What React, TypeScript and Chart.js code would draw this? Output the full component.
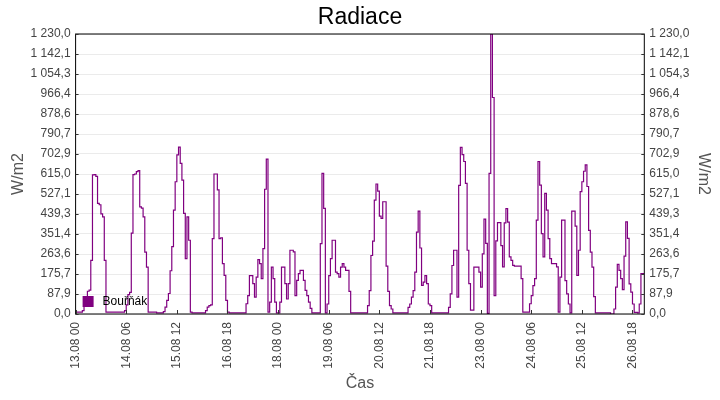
import { useEffect, useRef } from 'react';
import { Chart, registerables } from 'chart.js';

Chart.register(...registerables);

// hodinové hodnoty radiace (W/m2), po dnech od 13.08 00:00
const d13 = [8, 8, 8, 8, 15, 40, 75, 100, 105, 236, 611, 612, 605, 486, 480, 440, 427, 236, 8, 8, 8, 8, 8, 8];
const d14 = [8, 8, 8, 8, 8, 15, 40, 85, 95, 355, 612, 615, 625, 630, 471, 465, 427, 272, 206, 8, 8, 8, 8, 8];
const d15 = [5, 5, 5, 5, 10, 30, 60, 90, 190, 296, 456, 581, 699, 733, 662, 588, 442, 243, 427, 324, 8, 5, 5, 5];
const d16 = [5, 5, 5, 5, 5, 15, 30, 37, 40, 331, 615, 615, 545, 331, 335, 221, 170, 60, 8, 5, 5, 5, 5, 5];
const d17 = [5, 5, 5, 5, 5, 45, 81, 169, 169, 133, 74, 162, 239, 221, 155, 287, 548, 680, 8, 52, 206, 155, 52, 5];
const d18 = [5, 52, 206, 206, 133, 66, 133, 280, 280, 273, 81, 148, 177, 192, 192, 148, 104, 81, 52, 25, 5, 5, 5, 5];
const d19 = [5, 309, 618, 464, 5, 44, 169, 243, 324, 324, 184, 177, 162, 206, 221, 206, 192, 192, 99, 5, 5, 5, 5, 5];
const d20 = [5, 5, 5, 5, 5, 37, 103, 257, 320, 500, 571, 540, 430, 420, 493, 493, 210, 99, 37, 22, 5, 5, 5, 5];
const d21 = [5, 5, 5, 5, 5, 29, 44, 74, 103, 184, 360, 452, 290, 126, 140, 169, 133, 44, 37, 5, 5, 5, 5, 5];
const d22 = [5, 5, 5, 5, 5, 29, 88, 213, 280, 280, 74, 565, 732, 700, 670, 574, 280, 133, 17, 17, 206, 206, 206, 184];
const d23 = [118, 264, 417, 310, 3, 618, 1230, 951, 81, 321, 401, 401, 300, 207, 400, 463, 404, 251, 236, 214, 210, 210, 210, 210];
const d24 = [155, 8, 8, 8, 8, 45, 81, 125, 155, 412, 670, 566, 353, 251, 530, 456, 331, 243, 221, 221, 221, 207, 8, 162];
const d25 = [412, 412, 147, 88, 44, 5, 452, 452, 386, 170, 280, 538, 581, 627, 655, 560, 367, 272, 206, 76, 5, 5, 5, 5];
const d26 = [5, 5, 5, 5, 5, 0, 0, 22, 118, 218, 192, 155, 107, 254, 405, 332, 132, 96, 44, 7, 7, 5, 44, 177, 177, 177];

const radiace = [...d13, ...d14, ...d15, ...d16, ...d17, ...d18, ...d19, ...d20, ...d21, ...d22, ...d23, ...d24, ...d25, ...d26];

const xTickLabels = ['13.08 00', '14.08 06', '15.08 12', '16.08 18', '18.08 00', '19.08 06', '20.08 12', '21.08 18', '23.08 00', '24.08 06', '25.08 12', '26.08 18'];
const xTickStep = 30;
const yTickLabels = ['0,0', '87,9', '175,7', '263,6', '351,4', '439,3', '527,1', '615,0', '702,9', '790,7', '878,6', '966,4', '1 054,3', '1 142,1', '1 230,0'];
const yMax = 1230;

const seriesName = 'Bouřňák';
const seriesColor = '#800080';

const frame = {
    id: 'frame',
    afterDraw(chart: any) {
        const { ctx, chartArea, scales } = chart;
        const { left, right, top, bottom } = chartArea;
        ctx.save();
        ctx.strokeStyle = '#000';
        ctx.lineWidth = 1;
        ctx.strokeRect(left, top, right - left, bottom - top);

        ctx.strokeStyle = '#333';
        ctx.beginPath();
        scales.y.ticks.forEach((t: any) => {
            const py = Math.round(scales.y.getPixelForValue(t.value)) + 0.5;
            ctx.moveTo(left, py);
            ctx.lineTo(left + 3, py);
            ctx.moveTo(right - 3, py);
            ctx.lineTo(right, py);
        });
        scales.x.ticks.forEach((t: any) => {
            const px = Math.round(scales.x.getPixelForValue(t.value)) + 0.5;
            ctx.moveTo(px, bottom);
            ctx.lineTo(px, bottom - 4);
        });
        ctx.stroke();

        // legenda uvnitř grafu
        ctx.fillStyle = seriesColor;
        ctx.fillRect(left + 7, bottom - 18, 11, 11);
        ctx.fillStyle = '#000';
        ctx.font = '12px "Liberation Sans", Arial, sans-serif';
        ctx.textBaseline = 'middle';
        ctx.textAlign = 'left';
        ctx.fillText(seriesName, left + 27, bottom - 12);
        ctx.restore();
    },
};

export default function App() {
    const chartRef = useRef<HTMLCanvasElement>(null);
    const chartInstance = useRef<Chart | null>(null);

    useEffect(() => {
        document.body.style.margin = '0';
        if (!chartRef.current) return;
        if (chartInstance.current) chartInstance.current.destroy();

        const yTickValues = yTickLabels.map((_, i) => (i * yMax) / (yTickLabels.length - 1));
        const tickFont = { family: '"Liberation Sans", Arial, sans-serif', size: 12 };
        const axisTitleFont = { family: '"Liberation Sans", Arial, sans-serif', size: 16 };

        const yAxis = (position: 'left' | 'right', titlePad: number, width: number) => ({
            type: 'linear' as const,
            position,
            min: 0,
            max: yMax,
            afterBuildTicks: (scale: any) => {
                scale.ticks = yTickValues.map(v => ({ value: v }));
            },
            afterFit: (scale: any) => {
                scale.width = width;
            },
            grid: {
                display: position === 'left',
                color: '#ebebeb',
                drawTicks: false,
            },
            border: { display: false },
            ticks: {
                color: '#444',
                font: tickFont,
                padding: 5,
                callback: (_v: any, i: number) => yTickLabels[i],
            },
            title: {
                display: true,
                text: 'W/m2',
                color: '#555',
                font: axisTitleFont,
                padding: { top: titlePad, bottom: 0 },
            },
        });

        chartInstance.current = new Chart(chartRef.current, {
            type: 'line',
            data: {
                datasets: [{
                    label: seriesName,
                    data: radiace.map((v, i) => ({ x: i, y: v })),
                    borderColor: seriesColor,
                    borderWidth: 1.2,
                    pointRadius: 0,
                    stepped: true,
                    fill: false,
                }],
            },
            options: {
                animation: false,
                responsive: false,
                layout: { padding: 0 },
                plugins: {
                    legend: { display: false },
                    tooltip: { enabled: false },
                    title: {
                        display: true,
                        text: 'Radiace',
                        color: '#000',
                        font: { family: '"Liberation Sans", Arial, sans-serif', size: 23, weight: 'normal' },
                        padding: { top: 4, bottom: 2.4 },
                    },
                },
                scales: {
                    x: {
                        type: 'linear',
                        min: 0,
                        max: radiace.length - 1,
                        afterBuildTicks: (scale: any) => {
                            scale.ticks = xTickLabels.map((_, i) => ({ value: i * xTickStep }));
                        },
                        afterFit: (scale: any) => {
                            scale.height = 86;
                        },
                        grid: { display: false, drawTicks: false },
                        border: { display: false },
                        ticks: {
                            color: '#444',
                            font: tickFont,
                            padding: 8,
                            minRotation: 90,
                            maxRotation: 90,
                            autoSkip: false,
                            callback: (_v: any, i: number) => xTickLabels[i],
                        },
                        title: {
                            display: true,
                            text: 'Čas',
                            color: '#555',
                            font: axisTitleFont,
                            padding: { top: 0, bottom: 7 },
                        },
                    },
                    y: yAxis('left', 9, 75.6),
                    y2: yAxis('right', 7, 75.7),
                },
            },
            plugins: [frame],
        });

        return () => {
            if (chartInstance.current) {
                chartInstance.current.destroy();
                chartInstance.current = null;
            }
        };
    }, []);

    return (
        <div style={{ width: 720, height: 400, background: '#fff' }}>
            <canvas ref={chartRef} width={720} height={400}></canvas>
        </div>
    );
}
